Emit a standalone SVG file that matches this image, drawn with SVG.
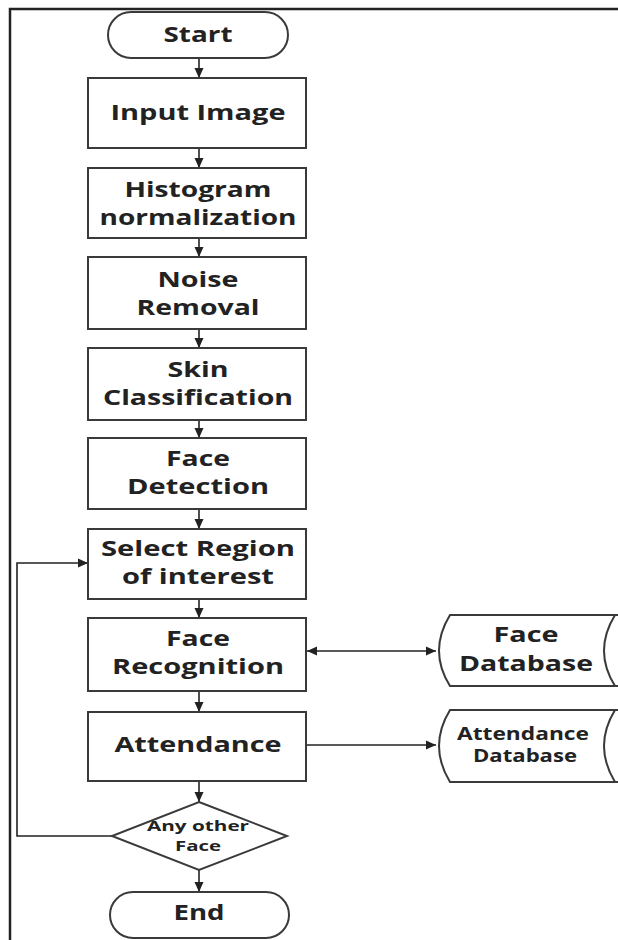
<svg xmlns="http://www.w3.org/2000/svg" width="618" height="940" viewBox="0 0 618 940">
<defs>
<style>
.shape{fill:#fff;stroke:#3a3a3a;stroke-width:2}
.t{font-family:"Open Sans","Liberation Sans",sans-serif;font-weight:700;fill:#222;text-anchor:middle;font-size:21px}
.s{font-size:17px}
.d{font-size:15px}
.c{fill:none;stroke:#222;stroke-width:1.6}
</style>
<marker id="ah" viewBox="0 0 10 10" refX="10" refY="5" markerUnits="userSpaceOnUse" markerWidth="10" markerHeight="10" orient="auto-start-reverse">
<path d="M0,0.5 L10,5 L0,9.5 Z" fill="#222"/>
</marker>
</defs>
<rect width="618" height="940" fill="#fff"/>
<path d="M10,940 V9 H618" fill="none" stroke="#222" stroke-width="2.5"/>

<g id="connectors">
<line class="c" x1="199" y1="58" x2="199" y2="78" marker-end="url(#ah)"/>
<line class="c" x1="199" y1="148" x2="199" y2="168" marker-end="url(#ah)"/>
<line class="c" x1="199" y1="238" x2="199" y2="257" marker-end="url(#ah)"/>
<line class="c" x1="199" y1="329" x2="199" y2="348" marker-end="url(#ah)"/>
<line class="c" x1="199" y1="420" x2="199" y2="438" marker-end="url(#ah)"/>
<line class="c" x1="199" y1="509" x2="199" y2="529" marker-end="url(#ah)"/>
<line class="c" x1="199" y1="599" x2="199" y2="618" marker-end="url(#ah)"/>
<line class="c" x1="199" y1="691" x2="199" y2="712" marker-end="url(#ah)"/>
<line class="c" x1="199" y1="781" x2="199" y2="802" marker-end="url(#ah)"/>
<line class="c" x1="199" y1="870" x2="199" y2="892" marker-end="url(#ah)"/>
<line class="c" x1="307" y1="651" x2="436" y2="651" marker-start="url(#ah)" marker-end="url(#ah)"/>
<line class="c" x1="307" y1="745" x2="436" y2="745" marker-end="url(#ah)"/>
<path class="c" d="M112,836 H17 V563 H88" marker-end="url(#ah)"/>
</g>

<g id="start">
<rect class="shape" x="108" y="12" width="180" height="46" rx="23"/>
<text class="t" x="198" y="42" textLength="69" lengthAdjust="spacingAndGlyphs">Start</text>
</g>
<g id="input-image">
<rect class="shape" x="88" y="78" width="218" height="70"/>
<text class="t" x="198" y="120" textLength="175" lengthAdjust="spacingAndGlyphs">Input Image</text>
</g>
<g id="histogram">
<rect class="shape" x="88" y="168" width="218" height="70"/>
<text class="t" x="198" y="197" textLength="147" lengthAdjust="spacingAndGlyphs">Histogram</text>
<text class="t" x="198" y="225" textLength="197" lengthAdjust="spacingAndGlyphs">normalization</text>
</g>
<g id="noise-removal">
<rect class="shape" x="88" y="257" width="218" height="72"/>
<text class="t" x="198" y="287" textLength="81" lengthAdjust="spacingAndGlyphs">Noise</text>
<text class="t" x="198" y="315" textLength="123" lengthAdjust="spacingAndGlyphs">Removal</text>
</g>
<g id="skin-classification">
<rect class="shape" x="88" y="348" width="218" height="72"/>
<text class="t" x="198" y="377" textLength="61" lengthAdjust="spacingAndGlyphs">Skin</text>
<text class="t" x="198" y="405" textLength="190" lengthAdjust="spacingAndGlyphs">Classification</text>
</g>
<g id="face-detection">
<rect class="shape" x="88" y="438" width="218" height="71"/>
<text class="t" x="198" y="466" textLength="64" lengthAdjust="spacingAndGlyphs">Face</text>
<text class="t" x="198" y="494" textLength="142" lengthAdjust="spacingAndGlyphs">Detection</text>
</g>
<g id="select-region">
<rect class="shape" x="88" y="529" width="218" height="70"/>
<text class="t" x="198" y="556" textLength="194" lengthAdjust="spacingAndGlyphs">Select Region</text>
<text class="t" x="198" y="584" textLength="152" lengthAdjust="spacingAndGlyphs">of interest</text>
</g>
<g id="face-recognition">
<rect class="shape" x="88" y="618" width="218" height="73"/>
<text class="t" x="198" y="646" textLength="64" lengthAdjust="spacingAndGlyphs">Face</text>
<text class="t" x="198" y="674" textLength="172" lengthAdjust="spacingAndGlyphs">Recognition</text>
</g>
<g id="attendance">
<rect class="shape" x="88" y="712" width="218" height="69"/>
<text class="t" x="198" y="752" textLength="167" lengthAdjust="spacingAndGlyphs">Attendance</text>
</g>
<g id="any-other-face">
<path class="shape" d="M199,802 L287,836 L199,870 L112,836 Z"/>
<text class="t d" x="198" y="831" textLength="102" lengthAdjust="spacingAndGlyphs">Any other</text>
<text class="t d" x="198" y="851" textLength="46" lengthAdjust="spacingAndGlyphs">Face</text>
</g>
<g id="end">
<rect class="shape" x="110" y="892" width="179" height="46" rx="23"/>
<text class="t" x="199" y="920" textLength="51" lengthAdjust="spacingAndGlyphs">End</text>
</g>
<g id="face-database">
<path class="shape" d="M620,615 H450 Q428,651 450,686 H620 Z"/>
<path class="shape" d="M620,615 H615 Q593,651 615,686 H620" fill="none"/>
<text class="t" x="526" y="642" textLength="65" lengthAdjust="spacingAndGlyphs">Face</text>
<text class="t" x="526" y="671" textLength="134" lengthAdjust="spacingAndGlyphs">Database</text>
</g>
<g id="attendance-database">
<path class="shape" d="M620,710 H450 Q428,746 450,782 H620 Z"/>
<path class="shape" d="M620,710 H615 Q593,746 615,782 H620" fill="none"/>
<text class="t s" x="523" y="740" textLength="132" lengthAdjust="spacingAndGlyphs">Attendance</text>
<text class="t s" x="525" y="762" textLength="104" lengthAdjust="spacingAndGlyphs">Database</text>
</g>
</svg>
